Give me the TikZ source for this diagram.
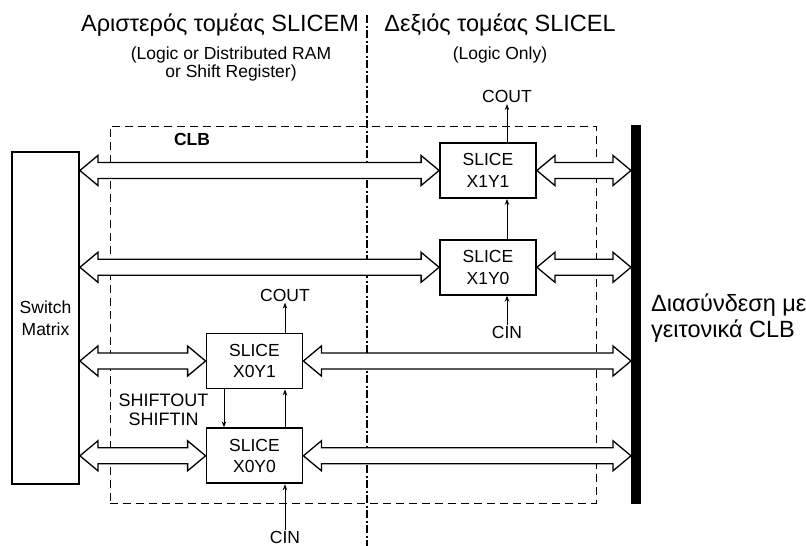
\documentclass[tikz,border=0pt]{standalone}
\usepackage{fontspec}
\setmainfont{Liberation Sans}
\usetikzlibrary{positioning,calc,arrows.meta}

% hollow double-headed bus arrow between two anchors (same row)
\newcommand\busarrow[2]{%
  \draw[bus] let \p1=(#1), \p2=(#2) in
    (\x1,\y1) -- (\x1+18pt,\y1+15pt) -- (\x1+18pt,\y1+8pt)
    -- (\x2-18pt,\y1+8pt) -- (\x2-18pt,\y1+15pt) -- (\x2,\y1)
    -- (\x2-18pt,\y1-15pt) -- (\x2-18pt,\y1-8pt)
    -- (\x1+18pt,\y1-8pt) -- (\x1+18pt,\y1-15pt) -- cycle;}

\begin{document}
\begin{tikzpicture}[
    x=1pt, y=-1pt,
    font=\fontsize{17.5}{21.5}\selectfont,
    slice/.style={
      draw, line width=1.8pt,
      minimum width=96pt, minimum height=55pt,   % <- all four slices the same size
      align=center, inner sep=0pt
    },
    swm/.style={draw, line width=1.8pt, minimum width=67pt, minimum height=332pt, align=center},
    bus/.style={draw, fill=white, line width=1.3pt, line join=miter},
    sig/.style={line width=1pt, -{Stealth[length=6pt,width=4.5pt]}},
    lbl/.style={inner sep=1pt},
    bigtxt/.style={font=\fontsize{23.5}{24}\selectfont, inner sep=0pt},
    subtxt/.style={font=\fontsize{17.5}{18.5}\selectfont, align=center, inner sep=0pt},
    clbbox/.style={draw, line width=1pt, dash pattern=on 8pt off 5pt,
      minimum width=486pt, minimum height=377pt, inner sep=0pt},
    divider/.style={line width=1.5pt, dash pattern=on 8pt off 2.5pt on 2pt off 2.5pt},
    linkbar/.style={fill=black, minimum width=10pt, minimum height=379pt, inner sep=0pt, outer sep=0pt}
  ]

    \useasboundingbox (0,0) rectangle (806,546);

% --- Headings of the two halves (base = last line) ---
    \node[bigtxt, anchor=base] (hleft)  at (220,31.5) {Αριστερός τομέας SLICEM};
    \node[subtxt, anchor=base] (sleft)  at (231,77.5) {(Logic or Distributed RAM\\or Shift Register)};
    \node[bigtxt, anchor=base] (hright) at (500,31.5) {Δεξιός τομέας SLICEL};
    \node[subtxt, anchor=base] (sright) at (500,59)   {(Logic Only)};

% --- CLB frame and divider ---
    \node[clbbox] (clb) at (353,314.5) {};
    \node[lbl, anchor=base, font=\fontsize{17.5}{21.5}\selectfont\bfseries] (clbname) at (192,145) {CLB};
    \coordinate (divtop) at (367,15);
    \coordinate (divbot) at (367,546);
    \draw[divider] (divtop) -- (divbot);

% --- Switch matrix and neighbour link ---
    \node[swm] (sm) at (45.5,318) {Switch\\Matrix};
    \node[linkbar] (bar) at (636,314.5) {};
    \node[anchor=base west, align=left, inner sep=0pt, font=\fontsize{23.5}{26.5}\selectfont] (nb) at (651,337.5)
      {Διασύνδεση με\\γειτονικά CLB};

% --- Slices ---
    \node[slice] (X1Y1) at (488,170.5) {SLICE\\X1Y1};
    \node[slice, below=40pt of X1Y1] (X1Y0) {SLICE\\X1Y0};
    \node[slice] (X0Y1) at (254.5,361) {SLICE\\X0Y1};
    \node[slice, below=38pt of X0Y1] (X0Y0) {SLICE\\X0Y0};

% --- Carry and shift labels ---
    \node[lbl, above=38pt of X1Y1.north, xshift=19pt] (cout1) {COUT};
    \node[lbl, below=29pt of X1Y0.south, xshift=19pt] (cin1) {CIN};
    \node[lbl, above=30pt of X0Y1.north, xshift=30.5pt] (cout0) {COUT};
    \node[lbl, below=46pt of X0Y0.south, xshift=30.5pt] (cin0) {CIN};
    \node[subtxt, anchor=base, font=\fontsize{18}{18.5}\selectfont] (shift) at (163.5,425) {SHIFTOUT\\SHIFTIN};

% --- Bus arrows ---
    \busarrow{sm.east |- X1Y1.west}{X1Y1.west}
    \busarrow{X1Y1.east}{bar.west |- X1Y1.east}
    \busarrow{sm.east |- X1Y0.west}{X1Y0.west}
    \busarrow{X1Y0.east}{bar.west |- X1Y0.east}
    \busarrow{sm.east |- X0Y1.west}{X0Y1.west}
    \busarrow{X0Y1.east}{bar.west |- X0Y1.east}
    \busarrow{sm.east |- X0Y0.west}{X0Y0.west}
    \busarrow{X0Y0.east}{bar.west |- X0Y0.east}

% --- Carry chains and shift line ---
    \draw[sig] (cout1.south |- X1Y1.north) -- (cout1.south);
    \draw[sig] ([xshift=19pt]X1Y0.north) -- ([xshift=19pt]X1Y1.south);
    \draw[sig] (cin1.north) -- (cin1.north |- X1Y0.south);
    \draw[sig] (cout0.south |- X0Y1.north) -- (cout0.south);
    \draw[sig] ([xshift=30.5pt]X0Y0.north) -- ([xshift=30.5pt]X0Y1.south);
    \draw[sig] ([xshift=-30.5pt]X0Y1.south) -- ([xshift=-30.5pt]X0Y0.north);
    \draw[sig] (cin0.north) -- (cin0.north |- X0Y0.south);

  \end{tikzpicture}
\end{document}
